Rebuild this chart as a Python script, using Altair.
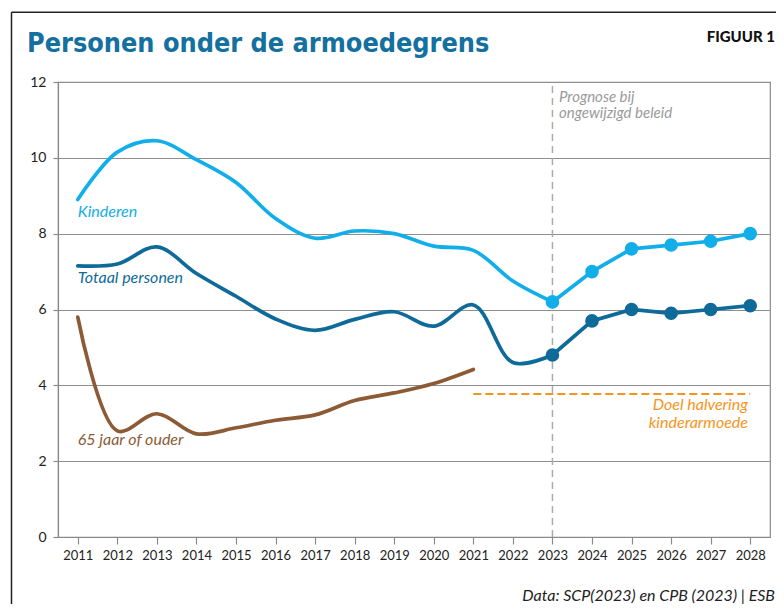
import altair as alt
import pandas as pd

# ---- data ----
years = list(range(2011, 2029))
kinderen = [8.9, 10.15, 10.45, 9.95, 9.35, 8.4, 7.88, 8.07, 8.0, 7.67, 7.56, 6.75, 6.2,
            7.0, 7.6, 7.7, 7.8, 8.0]
totaal = [7.15, 7.2, 7.65, 6.95, 6.35, 5.75, 5.45, 5.74, 5.94, 5.56, 6.12, 4.6, 4.8,
          5.7, 6.0, 5.9, 6.0, 6.1]
ouderen_years = list(range(2011, 2022))
ouderen = [5.8, 2.8, 3.25, 2.72, 2.88, 3.08, 3.22, 3.6, 3.8, 4.05, 4.42]

series_names = ["Kinderen", "Totaal personen", "65 jaar of ouder"]
series_colors = ["#12aeea", "#0e6a99", "#8c5b36"]
forecast_start = 2023
target_value = [3.77]
target_years = [2021, 2028]

title_text = "Personen onder de armoedegrens"
figure_text = "FIGUUR 1"
source_text = "Data: SCP(2023) en CPB (2023) | ESB"
prognose_text = "Prognose bij\nongewijzigd beleid"
target_text = "Doel halvering\nkinderarmoede"
label_pos_y = [8.45, 6.71, 2.43]

# ---- build tables ----
rows = []
for name, ys, vs in [("Kinderen", years, kinderen), ("Totaal personen", years, totaal),
                     ("65 jaar of ouder", ouderen_years, ouderen)]:
    for y, v in zip(ys, vs):
        if y <= forecast_start:
            rows.append({"year": y, "value": v, "series": name, "part": "hist"})
        if y >= forecast_start:
            rows.append({"year": y, "value": v, "series": name, "part": "prog"})
df = pd.DataFrame(rows)
hist = df[df.part == "hist"]
prog = df[df.part == "prog"]

xscale = alt.Scale(domain=[2010.5, 2028.5], nice=False, zero=False)
yscale = alt.Scale(domain=[0, 12], nice=False)
cscale = alt.Scale(domain=series_names, range=series_colors)

xaxis = alt.Axis(values=years, format="d", title=None, grid=False, labelFont="Lato",
                 labelFontSize=13, labelColor="#222", tickSize=7, labelPadding=5,
                 domainColor="#8a8a8a", tickColor="#8a8a8a", domainWidth=1.2, tickWidth=1.2,
                 labelFlush=False)
yaxis = alt.Axis(values=[0, 2, 4, 6, 8, 10, 12], title=None, grid=True, gridColor="#8f8f8f",
                 gridWidth=1.2, labelFont="Lato", labelFontSize=14, labelColor="#222",
                 tickSize=5, labelPadding=7, domainColor="#8a8a8a", tickColor="#8a8a8a",
                 domainWidth=1.2, tickWidth=1.2)

base_x = alt.X("year:Q", scale=xscale, axis=xaxis)
base_y = alt.Y("value:Q", scale=yscale, axis=yaxis)
color = alt.Color("series:N", scale=cscale, legend=None)

# vertical forecast divider
vdf = pd.DataFrame({"year": [forecast_start], "lo": [0], "hi": [12]})
vline = alt.Chart(vdf).mark_rule(color="#aaaaaa", strokeWidth=1.5, strokeDash=[7, 5]).encode(
    x=alt.X("year:Q", scale=xscale), y=alt.Y("lo:Q", scale=yscale), y2="hi:Q")

# target line
tdf = pd.DataFrame({"x1": [target_years[0]], "x2": [target_years[1]], "v": target_value})
tline = alt.Chart(tdf).mark_rule(color="#f7941d", strokeWidth=2, strokeDash=[8, 4]).encode(
    x=alt.X("x1:Q", scale=xscale), x2="x2:Q", y=alt.Y("v:Q", scale=yscale))

hist_lines = alt.Chart(hist).mark_line(interpolate="catmull-rom", strokeWidth=3.7,
                                       strokeCap="round").encode(
    x=base_x, y=base_y, color=color, detail="series:N")
prog_lines = alt.Chart(prog).mark_line(strokeWidth=3.7).encode(
    x=base_x, y=base_y, color=color, detail="series:N")
prog_pts = alt.Chart(prog).mark_circle(size=185, opacity=1).encode(
    x=base_x, y=base_y, color=color)

# series labels
ldf = pd.DataFrame({"year": [2011] * 3, "value": label_pos_y, "series": series_names})
labels = alt.Chart(ldf).mark_text(align="left", baseline="alphabetic", font="Lato",
                                  fontStyle="italic", fontSize=16).encode(
    x=alt.X("year:Q", scale=xscale), y=alt.Y("value:Q", scale=yscale),
    text="series:N", color=color)

def txt(s, x, y, **kw):
    return alt.Chart(pd.DataFrame({"t": [s]})).mark_text(baseline="alphabetic", **kw).encode(
        text="t:N", x=alt.value(x), y=alt.value(y))

prog_label = txt(prognose_text, 501, 19.5, align="left", font="Lato", fontStyle="italic",
                 fontSize=15, color="#9a9a9a", lineBreak="\n", lineHeight=16.5)
target_label = txt(target_text, 690, 328, align="right", font="Lato", fontStyle="italic",
                   fontSize=16, color="#f7941d", lineBreak="\n", lineHeight=17.5)
title = txt(title_text, -31, -30, align="left", font="DejaVu Sans Condensed",
            fontWeight="bold", fontSize=26.8, color="#13709f")
fig = txt(figure_text, 717, -40, align="right", font="Lato", fontWeight=900,
          fontSize=15, color="#111")
source = txt(source_text, 717, 519, align="right", font="Lato", fontStyle="italic",
             fontSize=16, color="#222")

# outer frame (top and left border)
fr = pd.DataFrame({"a": [0]})
frame_top = alt.Chart(fr).mark_rule(color="#222", strokeWidth=1.5).encode(
    x=alt.value(-46.5), x2=alt.value(730), y=alt.value(-69.7))
frame_left = alt.Chart(fr).mark_rule(color="#222", strokeWidth=1.5).encode(
    x=alt.value(-46.5), y=alt.value(-69.7), y2=alt.value(540))

chart = alt.layer(
    vline, tline, hist_lines, prog_lines, prog_pts, labels, prog_label, target_label,
    title, fig, source, frame_top, frame_left
).properties(
    width=712, height=455,
    autosize=alt.AutoSizeParams(type="none"),
    padding={"left": 50, "top": 74, "right": 6, "bottom": 67},
    background="white",
).configure_view(stroke="#8a8a8a", strokeWidth=1.2)

chart.save("out.html", embed_options={"renderer": "svg", "actions": False})
